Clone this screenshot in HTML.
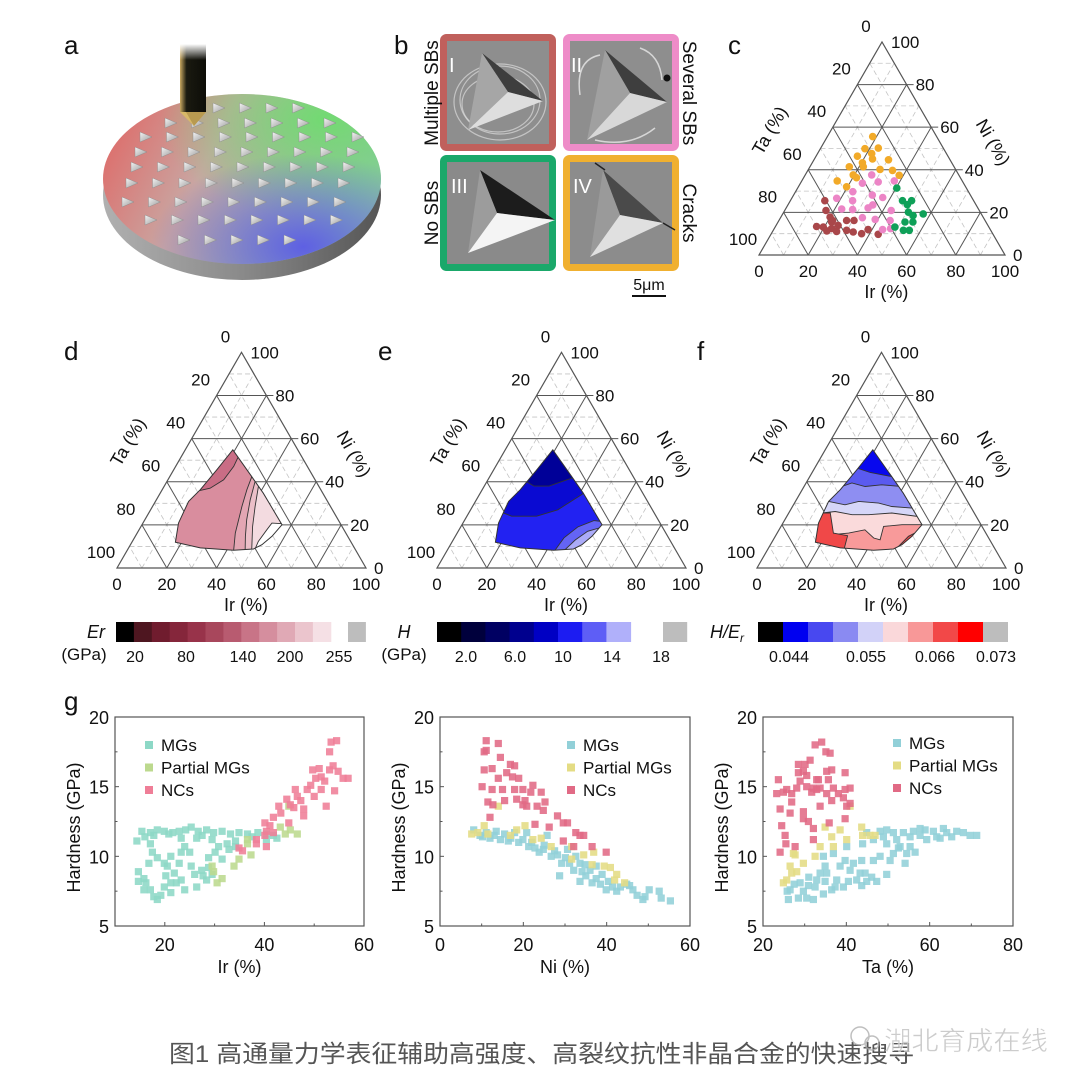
<!DOCTYPE html>
<html><head><meta charset="utf-8"><style>
html,body{margin:0;padding:0;background:#fff}
svg{display:block}
text{font-family:"Liberation Sans","Noto Sans CJK SC",sans-serif}
</style></head><body>
<svg id="fig" xmlns="http://www.w3.org/2000/svg" width="1080" height="1089" viewBox="0 0 1080 1089">
<defs>
 <linearGradient id="discBase" x1="0" y1="0" x2="1" y2="0.3">
  <stop offset="0" stop-color="#e2615f"/><stop offset="0.45" stop-color="#c9a6a2"/><stop offset="1" stop-color="#8fc4a8"/>
 </linearGradient>
 <radialGradient id="discGreen" cx="0.8" cy="0.15" r="0.6"><stop offset="0" stop-color="#6fdc6f" stop-opacity="0.95"/><stop offset="1" stop-color="#6fdc6f" stop-opacity="0"/></radialGradient>
 <radialGradient id="discBlue" cx="0.72" cy="0.9" r="0.55"><stop offset="0" stop-color="#5b5be6" stop-opacity="0.95"/><stop offset="1" stop-color="#5b5be6" stop-opacity="0"/></radialGradient>
 <linearGradient id="discSide" x1="0" y1="0" x2="1" y2="0"><stop offset="0" stop-color="#b0b0b0"/><stop offset="0.5" stop-color="#8a8a8a"/><stop offset="1" stop-color="#555"/></linearGradient>
 <linearGradient id="probe" x1="0" y1="0" x2="1" y2="0"><stop offset="0" stop-color="#c8a860"/><stop offset="0.25" stop-color="#1a1a10"/><stop offset="1" stop-color="#0d0d08"/></linearGradient>
 <linearGradient id="probeTop" x1="0" y1="0" x2="0" y2="1"><stop offset="0" stop-color="#fff"/><stop offset="1" stop-color="#fff" stop-opacity="0"/></linearGradient>
 <linearGradient id="indent" x1="0" y1="0" x2="1" y2="1"><stop offset="0" stop-color="#f4f4f4"/><stop offset="1" stop-color="#9a9a9a"/></linearGradient>
</defs>
<rect x="0" y="0" width="1080" height="1089" fill="#fff"/>

<g font-size="26" fill="#111">
 <text x="64" y="54">a</text>
 <text x="394" y="54">b</text>
 <text x="728" y="54">c</text>
 <text x="64" y="360">d</text>
 <text x="378" y="360">e</text>
 <text x="697" y="360">f</text>
 <text x="64" y="710">g</text>
</g>

<g id="panelA">
 <ellipse cx="242" cy="195" rx="139" ry="85" fill="url(#discSide)"/>
 <ellipse cx="242" cy="179" rx="139" ry="85" fill="url(#discBase)"/>
 <ellipse cx="242" cy="179" rx="139" ry="85" fill="url(#discGreen)"/>
 <ellipse cx="242" cy="179" rx="139" ry="85" fill="url(#discBlue)"/>
 <g id="indents"></g>
 <g>
  <rect x="180" y="44" width="26" height="68" fill="url(#probe)"/>
  <rect x="180" y="44" width="26" height="16" fill="url(#probeTop)"/>
  <polygon points="180,112 206,112 194,126" fill="#d8b868"/>
  <polygon points="186,112 206,112 194,126" fill="#b89a50"/>
 </g>
</g>

<g id="panelB">
 <g>
  <rect x="443.5" y="37.5" width="109" height="110" rx="3" fill="#8e8e8e" stroke="#c0605c" stroke-width="7"/>
  <g fill="none" stroke="#e8e8e8" stroke-opacity="0.6" stroke-width="1.2">
   <ellipse cx="500" cy="100" rx="40" ry="34"/><ellipse cx="500" cy="102" rx="46" ry="38"/><ellipse cx="498" cy="104" rx="36" ry="28"/>
  </g>
  <polygon points="482,53 508,92 543,101" fill="#3e3e3e"/>
  <polygon points="482,53 508,92 468,130" fill="#a6a6a6"/>
  <polygon points="508,92 543,101 468,130" fill="#dedede"/>
  <text x="449" y="72" font-size="20" fill="#fff">I</text>
 </g>
 <g>
  <rect x="566.5" y="37.5" width="109" height="110" rx="3" fill="#8e8e8e" stroke="#ee8cc8" stroke-width="7"/>
  <path d="M580,95 Q575,60 600,55 M640,48 Q660,55 662,80 M595,140 Q630,148 655,128" fill="none" stroke="#e8e8e8" stroke-width="1.5" stroke-opacity="0.8"/>
  <circle cx="667" cy="78" r="3.5" fill="#111"/>
  <polygon points="605,50 630,93 667,102" fill="#3e3e3e"/>
  <polygon points="605,50 630,93 587,140" fill="#a0a0a0"/>
  <polygon points="630,93 667,102 587,140" fill="#d8d8d8"/>
  <text x="571" y="72" font-size="20" fill="#fff">II</text>
 </g>
 <g>
  <rect x="443.5" y="158.5" width="109" height="109" rx="3" fill="#8a8a8a" stroke="#1aa86a" stroke-width="7"/>
  <polygon points="480,170 497,213 555,220" fill="#1c1c1c"/>
  <polygon points="480,170 497,213 468,253" fill="#9c9c9c"/>
  <polygon points="497,213 555,220 468,253" fill="#f4f4f4"/>
  <text x="451" y="193" font-size="20" fill="#fff">III</text>
 </g>
 <g>
  <rect x="566.5" y="158.5" width="109" height="109" rx="3" fill="#8c8c8c" stroke="#f0b030" stroke-width="7"/>
  <polygon points="603,170 620,215 663,223" fill="#4a4a4a"/>
  <polygon points="603,170 620,215 590,257" fill="#9a9a9a"/>
  <polygon points="620,215 663,223 590,257" fill="#e0e0e0"/>
  <path d="M595,163 L605,170 M663,223 L675,230" stroke="#222" stroke-width="1.5"/>
  <text x="573" y="193" font-size="20" fill="#fff">IV</text>
 </g>
 <text transform="translate(438,93) rotate(-90)" text-anchor="middle" font-size="19" fill="#111">Multiple SBs</text>
 <text transform="translate(438,213) rotate(-90)" text-anchor="middle" font-size="19" fill="#111">No SBs</text>
 <text transform="translate(683,93) rotate(90)" text-anchor="middle" font-size="19" fill="#111">Several SBs</text>
 <text transform="translate(683,213) rotate(90)" text-anchor="middle" font-size="19" fill="#111">Cracks</text>
 <text x="649" y="290" text-anchor="middle" font-size="16" fill="#111">5μm</text>
 <line x1="632" y1="296" x2="666" y2="296" stroke="#111" stroke-width="2"/>
</g>

<g id="ternC"></g>
<g id="ternD"></g>
<g id="ternE"></g>
<g id="ternF"></g>

<g>
 <text x="96" y="638" text-anchor="middle" font-size="18" font-style="italic" fill="#111">Er</text>
 <text x="84" y="660" text-anchor="middle" font-size="17" fill="#111">(GPa)</text>
 <g id="cbD"></g>
 <g font-size="16" fill="#111" text-anchor="middle">
  <text x="135" y="662">20</text><text x="186" y="662">80</text><text x="243" y="662">140</text><text x="290" y="662">200</text><text x="339" y="662">255</text>
 </g>
</g>
<g>
 <text x="404" y="638" text-anchor="middle" font-size="18" font-style="italic" fill="#111">H</text>
 <text x="404" y="660" text-anchor="middle" font-size="17" fill="#111">(GPa)</text>
 <g id="cbE"></g>
 <g font-size="16" fill="#111" text-anchor="middle">
  <text x="466" y="662">2.0</text><text x="515" y="662">6.0</text><text x="563" y="662">10</text><text x="612" y="662">14</text><text x="661" y="662">18</text>
 </g>
</g>
<g>
 <text x="727" y="638" text-anchor="middle" font-size="18" font-style="italic" fill="#111">H/E<tspan font-size="12" dy="4">r</tspan></text>
 <g id="cbF"></g>
 <g font-size="16" fill="#111" text-anchor="middle">
  <text x="789" y="662">0.044</text><text x="866" y="662">0.055</text><text x="935" y="662">0.066</text><text x="996" y="662">0.073</text>
 </g>
</g>

<g id="sc1"></g>
<g id="sc2"></g>
<g id="sc3"></g>

<text x="169" y="1062" font-size="24" fill="#555" textLength="745" lengthAdjust="spacingAndGlyphs">图1 高通量力学表征辅助高强度、高裂纹抗性非晶合金的快速搜寻</text>
<g opacity="0.75">
 <circle cx="860" cy="1036" r="9" fill="none" stroke="#aaa" stroke-width="1.5"/>
 <circle cx="872" cy="1043" r="7" fill="none" stroke="#aaa" stroke-width="1.5"/>
 <text x="884" y="1050" font-size="26" fill="#bbb" stroke="#fff" stroke-width="0.5" textLength="164" lengthAdjust="spacingAndGlyphs">湖北育成在线</text>
</g>
</svg>

<script>
const NS = "http://www.w3.org/2000/svg";
function mk(tag, attrs, parent){ const e=document.createElementNS(NS,tag); for(const k in attrs) e.setAttribute(k, attrs[k]); parent.appendChild(e); return e; }

/* ---------- panel a indents ---------- */
const indentRows = [[108,218,4],[123,170,7],[137,145,9],[152,140,9],[167,136,9],[183,131,9],[202,127,9],[220,150,8],[240,183,5]];
const ig = document.getElementById('indents');
indentRows.forEach(r=>{ for(let i=0;i<r[2];i++){ const x=r[1]+i*26.5, y=r[0];
  const t = mk('polygon',{points:`${x-5},${y-5} ${x+7},${y} ${x-5},${y+5}`,fill:'url(#indent)',stroke:'#888','stroke-width':0.4},ig);
  
  
}});

/* ---------- ternary data ---------- */
const multipleSBs = [[14.0,25.5],[16.8,20.9],[20.0,17.8],[21.8,16.2],[16.7,13.4],[19.6,13.1],[23.3,12.4],[25.2,13.9],[27.5,16.2],[30.5,16.2],[29.8,11.6],[32.9,10.8],[36.7,10.0],[38.4,11.9],[43.6,9.7],[26.0,11.1],[21.9,11.3],[21.8,15.5]];
const severalSBs = [[27.0,37.6],[25.2,33.7],[31.3,34.3],[37.6,34.8],[23.3,29.7],[32.0,28.1],[36.8,27.0],[18.3,26.6],[25.3,25.5],[34.5,23.5],[22.8,21.6],[27.4,21.3],[33.3,22.1],[43.3,20.9],[33.3,17.5],[38.9,16.7],[45.2,16.2],[44.3,11.9],[47.3,12.4]];
const noSBs = [[40.3,31.4],[45.6,25.5],[49.3,25.5],[50.7,20.1],[57.1,19.3],[53.4,18.5],[51.6,15.5],[54.8,15.5],[52.9,11.6],[55.3,11.6],[48.7,13.1],[48.5,23.6]];
const cracks = [[18.4,55.6],[18.1,49.9],[23.4,50.2],[22.0,47.6],[16.8,46.4],[23.6,45.1],[30.3,44.7],[16.0,41.4],[21.7,41.4],[29.1,40.2],[34.4,39.7],[38.3,37.4],[19.5,37.6],[21.5,36.3],[14.4,34.8],[19.6,32.0],[20.4,43.3]];

const regionOutline = [[19.1,54.8],[32.9,42.4],[41.4,34.7],[56.2,20.1],[54.9,14.7],[52.8,10.8],[50.4,8.8],[42.7,8.2],[28.8,9.3],[17.5,11.9],[14.3,20.8],[13.3,30.9],[15.3,36.3],[17.3,45.5]];
const erLevels = [
 {c:'#d98d9e', p:[[0,0],[100,0],[0,100]]},
 {c:'#c96d85', p:[[15.4,36.0],[18.9,37.0],[22.4,40.9],[23.3,47.1],[22.9,51.7],[30,70],[0,80],[0,36]]},
 {c:'#e3a6b3', p:[[33.0,42.1],[34.0,36.3],[35.9,28.5],[37.7,22.3],[39.4,16.2],[43.3,6.9],[43.3,0],[100,0],[60,45]]},
 {c:'#ebbfc8', p:[[35.4,40.1],[37.7,31.6],[40.9,22.4],[44.2,14.7],[48.0,6.9],[48,0],[100,0],[60,45]]},
 {c:'#f3dbe0', p:[[37.9,37.8],[41.2,28.5],[44.8,19.3],[50.6,6.9],[50.6,0],[100,0],[60,45]]},
 {c:'#ffffff', p:[[56.5,20.5],[51.8,20.8],[51.3,17.7],[50.6,12.3],[51.3,6.9],[51.3,0],[100,0],[70,25]]}
];
const hLevels = [
 {c:'#2222f2', p:[[0,0],[100,0],[0,100]]},
 {c:'#0a0ad2', p:[[10,27],[18,24],[28,24],[35,27],[41,34],[60,60],[0,80]]},
 {c:'#000098', p:[[14,41],[20,38],[26,38],[30,40],[34,42],[50,60],[0,80]]},
 {c:'#6464f5', p:[[43,0],[43,6],[44,14],[47,19],[52,22],[60,21],[90,0]]},
 {c:'#ababf8', p:[[47,0],[47,8],[49,13],[52,17],[57,19],[90,0]]},
 {c:'#ffffff', p:[[52,0],[52,8],[55,12],[59,16],[90,0]]}
];
const heLevels = [
 {c:'#f89a9a', p:[[0,0],[100,0],[0,100]]},
 {c:'#fadadb', p:[[10,14],[28.7,16.2],[34.5,17.7],[39.9,13.9],[42.9,13.1],[41.2,19.3],[48.2,20.1],[70,20.1],[70,100],[0,100]]},
 {c:'#d6d6f8', p:[[0,25.5],[13.4,25.5],[18.3,26.2],[25.8,24.7],[32.5,24.7],[41.4,25.5],[52.8,23.9],[80,23.9],[80,100],[0,100]]},
 {c:'#8e8ef2', p:[[0,30.9],[13.3,30.9],[20.7,29.3],[25.4,30.9],[33.8,30.1],[39.8,28.5],[48.3,27.8],[80,27.8],[80,100],[0,100]]},
 {c:'#5a5af0', p:[[0,37.0],[13.6,37.0],[18.4,39.4],[24.5,37.8],[30.8,38.6],[39.3,37.8],[80,37.8],[80,100],[0,100]]},
 {c:'#0808ee', p:[[0,47.1],[14.6,47.1],[23.3,44.3],[32.9,42.4],[80,42.4],[80,100],[0,100]]},
 {c:'#f04848', p:[[16.7,25.5],[22.6,16.2],[28.9,15.0],[30.9,7.7],[30.9,0],[0,0],[0,25.5]]},
 {c:'#f04848', p:[[51.3,8.5],[53.5,14.7],[56.3,17.0],[70,10],[60,0]]}
];
const ternTicks = ['0','20','40','60','80','100'];

function drawTernary(root, BLx, BLy, W){
  const H = W*0.866;
  const P = (ir,ni)=>[BLx + W*(ir+ni/2)/100, BLy - H*ni/100];
  const pts = arr=>arr.map(a=>P(a[0],a[1]).map(v=>v.toFixed(1)).join(',')).join(' ');
  const gridG = mk('g',{},root);
  
  
  for(let v=10; v<100; v+=20){
    [[[0,v],[100-v,v]],[[v,0],[v,100-v]],[[100-v,0],[0,100-v]]].forEach(s=>{
      const a=P(...s[0]), b=P(...s[1]);
      mk('line',{x1:a[0],y1:a[1],x2:b[0],y2:b[1],stroke:'#c4c4c4','stroke-width':0.8,'stroke-dasharray':'5,3'},gridG);
    });
  }
  for(let v=20; v<100; v+=20){
    [[[0,v],[100-v,v]],[[v,0],[v,100-v]],[[100-v,0],[0,100-v]]].forEach((s,i)=>{
      const a=P(...s[0]), b=P(...s[1]);
      mk('line',{x1:a[0],y1:a[1],x2:b[0]+(i===0?7:0),y2:b[1],stroke:'#555','stroke-width':1},gridG);
    });
  }
  return {P,pts,H,gridG};
}
function ternFrame(root, T, BLx, BLy, W){
  const {P,H} = T;
  const e = mk('polygon',{points:`${BLx},${BLy} ${BLx+W},${BLy} ${BLx+W/2},${BLy-H}`,fill:'none',stroke:'#555','stroke-width':1.2},root);
  
  
  const tg = mk('g',{'font-size':17,fill:'#111'},root);
  
  
  ternTicks.forEach((lab,i)=>{
    const v=i*20;
    const b=P(v,0);
    mk('text',{x:b[0],y:BLy+22,'text-anchor':'middle'},tg).textContent=lab;
    const r=P(100-v,v);
    mk('text',{x:r[0]+(v===0?8:9),y:r[1]+6},tg).textContent=lab;
    const l=P(0,100-v);
    mk('text',{x:l[0]-16,y:l[1]-10,'text-anchor':'middle'},tg).textContent=lab;
  });
  const t1 = mk('text',{x:BLx+W*0.518,y:BLy+43,'text-anchor':'middle','font-size':18,fill:'#111'},root);
  t1.textContent='Ir (%)';
  
  
  const t2 = mk('text',{transform:`translate(${BLx+W*0.065},${BLy-W*0.494}) rotate(-60)`,'text-anchor':'middle','font-size':18,fill:'#111'},root);
  t2.textContent='Ta (%)';
  
  
  const t3 = mk('text',{transform:`translate(${BLx+W*0.93},${BLy-W*0.446}) rotate(60)`,'text-anchor':'middle','font-size':18,fill:'#111'},root);
  t3.textContent='Ni (%)';
  
  
}

(function(){
  const root=document.getElementById('ternC');
  const BLx=759, BLy=255, W=246;
  const T=drawTernary(root,BLx,BLy,W);
  ternFrame(root,T,BLx,BLy,W);
  [[multipleSBs,'#a9474a','point-multiple-sbs'],[severalSBs,'#ec85c6','point-several-sbs'],[noSBs,'#0fa058','point-no-sbs'],[cracks,'#f2aa28','point-cracks']].forEach(s=>{
    s[0].forEach(d=>{
      const p=T.P(d[0],d[1]);
      const c=mk('circle',{cx:p[0].toFixed(1),cy:p[1].toFixed(1),r:3.8,fill:s[1]},root);
      
      
    });
  });
})();

function drawMap(id, BLx, levels, nm){
  const root=document.getElementById(id);
  const BLy=568, W=249;
  const T=drawTernary(root,BLx,BLy,W);
  const cp = mk('clipPath',{id:'clip'+id},root);
  mk('polygon',{points:T.pts(regionOutline)},cp);
  const mg = mk('g',{'clip-path':`url(#clip${id})`},root);
  
  
  levels.forEach(l=>{
    const e=mk('polygon',{points:T.pts(l.p),fill:l.c,stroke:'#333','stroke-width':0.9},mg);
    
    
  });
  const ol = mk('polygon',{points:T.pts(regionOutline),fill:'none',stroke:'#333','stroke-width':1},root);
  
  
  ternFrame(root,T,BLx,BLy,W);
}
drawMap('ternD',117,erLevels,'er-contours');
drawMap('ternE',437,hLevels,'h-contours');
drawMap('ternF',757,heLevels,'h-er-contours');

const erColors=['#000000','#4e1620','#701c2e','#85263b','#98334a','#a8475c','#b85b70','#c87487','#d58e9e','#e0a9b5','#ebc5cd','#f5e0e5'];
const hColors=['#000000','#00003c','#000062','#00008e','#0000c4','#1c1cf2','#5e5ef6','#b0b0fa'];
const heColors=['#000000','#0000f0','#4848f0','#8a8af2','#d2d2f8','#fad8da','#f89898','#f24848','#ff0000'];
function colorbar(id,x0,w,cols,grayX){
  const g=document.getElementById(id);
  cols.forEach((c,i)=>{ const r=mk('rect',{x:x0+i*w,y:622,width:w+0.5,height:20,fill:c},g);
    
     });
  const gr=mk('rect',{x:grayX,y:622,width:w,height:20,fill:'#bdbdbd'},g);
  
  
}
colorbar('cbD',116,17.9,erColors,348);
colorbar('cbE',437,24.2,hColors,663);
colorbar('cbF',758,25,heColors,983);

const irMGs=[[15.4,11.8],[17.1,11.7],[18.5,11.9],[19.9,11.8],[21.6,11.7],[22.9,11.8],[25.3,12.1],[26.7,11.8],[28.4,11.9],[29.8,11.7],[31.5,11.8],[33.2,11.6],[34.9,11.7],[36.6,11.6],[38.7,11.7],[40.4,11.6],[41.8,11.5],[14.4,11.1],[17.8,11.5],[23.3,11.3],[26.4,11.3],[29.5,11.2],[32.5,10.9],[34.2,10.7],[40.4,11.2],[14.7,8.9],[15.8,8.4],[16.2,8.1],[15.8,7.6],[17.1,7.6],[17.8,7.1],[18.5,6.9],[19.2,7.2],[19.9,7.8],[20.2,8.6],[20.5,9.3],[21.2,10.0],[21.9,8.8],[22.3,8.1],[22.9,9.5],[23.3,10.3],[23.3,8.3],[24.0,10.7],[25.0,10.3],[25.3,9.3],[26.0,8.7],[26.4,7.8],[27.4,9.0],[27.7,8.6],[28.4,8.3],[28.8,9.2],[28.8,9.9],[29.5,8.7],[30.1,10.3],[17.1,10.9],[17.5,10.3],[18.5,9.9],[16.8,9.5],[19.9,9.5],[14.7,8.2],[21.2,7.4],[24.0,7.6],[21.2,8.1],[30.8,10.7],[31.5,9.8],[32.9,10.5],[34.2,11.1],[16.0,11.4],[20.8,11.6],[24.2,11.9],[27.5,11.5],[37.5,11.4],[42.5,11.3]];
const irPartial=[[29.8,8.9],[30.5,8.1],[31.5,8.4],[33.9,9.3],[34.9,9.8],[36.6,11.2],[37.3,10.1],[36.6,10.9],[43.2,12.1],[44.2,11.6],[45.2,11.9],[46.6,11.6],[44.9,13.6],[29.5,9.3]];
const irNCs=[[40.1,12.4],[41.8,12.8],[42.9,13.6],[43.3,13.1],[40.4,11.8],[41.8,11.7],[38.4,11.2],[40.4,10.7],[38.4,10.9],[34.9,10.6],[35.6,10.4],[44.5,14.1],[45.2,13.7],[44.9,12.4],[46.2,14.8],[46.6,14.3],[47.3,14.0],[47.9,13.4],[47.9,12.9],[48.6,14.8],[49.3,15.1],[49.7,16.2],[50.0,14.3],[50.3,15.6],[51.0,16.3],[51.4,15.7],[52.1,15.4],[52.4,13.6],[53.1,16.2],[53.1,17.5],[53.4,18.2],[53.8,16.5],[54.1,14.7],[54.5,18.3],[54.8,16.1],[55.8,15.6],[56.8,15.6],[51.4,14.8],[45.9,13.5],[40.1,11.5],[41.1,12.2]];
const niMGs=[[8.1,11.9],[9.6,11.5],[11.1,11.7],[12.0,11.3],[13.5,11.8],[14.5,11.2],[15.5,11.6],[16.4,11.1],[17.9,11.7],[18.9,11.0],[19.9,11.2],[20.8,11.7],[21.3,10.7],[22.8,10.6],[23.8,10.3],[24.8,10.5],[25.7,11.5],[26.7,10.0],[28.2,10.1],[28.7,8.6],[29.2,9.5],[30.1,9.9],[31.1,9.5],[32.1,9.0],[32.6,10.0],[33.6,8.2],[34.1,8.9],[35.0,8.6],[36.0,9.0],[36.5,8.1],[37.5,8.4],[38.5,8.0],[38.9,8.7],[39.9,7.6],[40.4,8.2],[41.4,7.8],[42.4,7.5],[43.3,7.8],[44.8,8.0],[46.3,7.6],[47.3,7.2],[48.7,6.9],[49.2,7.1],[50.2,7.6],[52.6,7.5],[53.1,7.0],[55.3,6.8],[33.6,9.5],[37.5,9.3],[30.6,10.5],[10.2,11.4],[13.0,11.5],[17.0,11.3],[22.0,11.0],[25.0,10.8],[27.5,10.4],[34.8,9.4],[45.5,7.9]];
const niPartial=[[7.6,11.6],[9.1,11.7],[10.6,12.2],[11.5,11.6],[14.0,13.6],[16.9,11.5],[18.4,11.9],[20.4,12.2],[22.3,11.2],[24.3,11.3],[26.7,10.7],[31.6,9.8],[34.5,10.1],[36.5,9.4],[36.9,10.3],[39.4,9.3],[40.9,9.2],[42.4,8.7],[41.9,8.3],[44.3,8.1],[31.6,10.7]];
const niNCs=[[11.1,18.3],[10.6,17.5],[11.1,17.6],[10.6,16.2],[12.5,16.3],[10.1,15.0],[12.5,14.8],[11.5,13.9],[12.7,13.7],[12.0,12.8],[14.0,18.1],[14.5,17.1],[14.0,15.6],[15.0,14.8],[15.5,14.0],[16.0,16.0],[16.9,16.6],[17.4,15.7],[17.9,14.8],[18.4,14.1],[18.9,15.6],[17.9,16.5],[19.9,14.8],[20.4,14.0],[20.8,13.6],[21.8,14.6],[22.8,12.3],[23.3,13.6],[24.3,14.6],[24.8,13.3],[25.2,13.9],[26.2,12.1],[28.2,12.9],[29.6,12.4],[30.6,12.4],[32.6,11.7],[33.6,11.5],[34.5,11.5],[32.1,10.7],[36.5,10.7],[39.9,10.3],[29.6,11.1],[19.9,13.7],[22.3,15.1]];
const taMGs=[[26.1,6.9],[25.8,7.5],[26.5,7.6],[28.5,7.0],[28.9,8.1],[29.7,7.5],[30.5,7.0],[30.9,7.9],[32.1,6.9],[32.5,7.8],[32.9,8.3],[33.7,8.8],[34.5,7.3],[34.5,10.0],[34.9,9.3],[34.9,8.2],[35.3,8.8],[36.5,7.6],[36.9,10.2],[37.3,7.8],[37.7,8.3],[38.5,9.3],[39.3,7.8],[39.7,9.7],[40.1,10.7],[40.5,8.2],[40.9,9.0],[41.7,9.5],[42.5,8.3],[43.3,8.8],[43.7,7.9],[43.7,9.7],[44.5,8.8],[44.9,8.2],[46.1,8.5],[47.3,8.2],[46.5,9.7],[48.1,10.0],[49.7,8.7],[50.5,9.7],[51.3,10.2],[52.5,10.6],[54.1,9.5],[54.5,10.2],[56.5,10.3],[43.9,10.9],[44.9,11.7],[46.5,11.2],[48.1,11.8],[48.9,11.4],[49.7,10.9],[51.3,11.7],[52.1,11.2],[53.7,11.7],[55.3,11.4],[56.1,11.8],[57.7,11.5],[58.9,11.9],[59.3,11.2],[60.9,11.8],[61.7,11.4],[63.3,12.0],[64.1,11.7],[65.3,11.4],[66.5,11.8],[68.1,11.7],[69.7,11.5],[71.3,11.5],[57.7,12.0],[62.5,11.3],[49.7,11.9],[55.3,10.7],[52.9,10.7],[31.0,8.5],[27.5,8.0]];
const taPartial=[[24.9,8.1],[25.7,8.3],[26.5,9.3],[26.9,8.8],[27.3,10.2],[27.7,10.1],[28.1,8.9],[29.7,9.5],[32.5,10.0],[33.7,10.7],[34.9,12.1],[36.5,11.4],[36.9,10.7],[38.5,11.9],[40.1,11.2],[43.7,12.1],[43.9,11.5],[45.7,11.5],[46.9,11.5],[40.9,13.6]];
const taNCs=[[23.7,15.5],[24.1,13.4],[24.5,12.2],[24.1,10.3],[25.3,11.5],[25.5,10.9],[23.3,14.5],[24.9,14.6],[25.7,14.8],[26.9,14.5],[26.9,13.9],[26.5,13.1],[28.1,14.9],[28.5,16.6],[28.5,16.0],[28.9,15.4],[30.1,16.6],[29.7,16.1],[30.5,15.8],[30.5,15.0],[29.7,13.2],[29.7,12.7],[30.9,12.5],[31.7,14.6],[32.1,14.9],[32.9,14.8],[33.3,15.5],[33.7,14.9],[32.5,18.0],[34.1,18.2],[35.1,17.5],[36.1,17.4],[35.3,16.1],[36.5,16.2],[35.7,15.5],[35.3,14.5],[36.5,14.0],[36.9,14.9],[38.1,14.5],[39.3,14.2],[39.7,14.8],[40.9,14.9],[39.7,16.0],[40.1,13.6],[40.9,13.8],[39.7,12.7],[32.1,12.0],[32.1,11.2],[27.7,10.7],[31.3,16.9],[32.9,15.5],[33.7,13.6],[35.9,12.4]];
const hTicks=[5,10,15,20];
const irTicks=[20,40,60];
const niTicks=[0,20,40,60];
const taTicks=[20,40,60,80];
const legendLabels=['MGs','Partial MGs','NCs'];

function scatter(id, x0, x1, dmin, dmax, ticks, xTitle, series, legend){
  const root=document.getElementById(id);
  const y0=926, y1=717;
  const X=v=>x0+(v-dmin)/(dmax-dmin)*(x1-x0);
  const Y=v=>y0-(v-5)/15*(y0-y1);
  const ax=mk('g',{},root);
  
  
  mk('rect',{x:x0,y:y1,width:x1-x0,height:y0-y1,fill:'none',stroke:'#555','stroke-width':1.2},ax);
  hTicks.forEach(t=>{ const y=Y(t);
    mk('line',{x1:x0,y1:y,x2:x0+4,y2:y,stroke:'#555'},ax);
    if(t<20){ mk('line',{x1:x0,y1:Y(t+2.5),x2:x0+2.5,y2:Y(t+2.5),stroke:'#555'},ax); }
    const tx=mk('text',{x:x0-6,y:y+7,'text-anchor':'end','font-size':18,fill:'#111'},ax);
    tx.textContent=t;
  });
  ticks.forEach((t,i)=>{ const x=X(t);
    mk('line',{x1:x,y1:y0,x2:x,y2:y0-4,stroke:'#555'},ax);
    if(i<ticks.length-1){ const m=X(t+(ticks[1]-ticks[0])/2); mk('line',{x1:m,y1:y0,x2:m,y2:y0-2.5,stroke:'#555'},ax); }
    const tx=mk('text',{x:x,y:y0+25,'text-anchor':'middle','font-size':18,fill:'#111'},ax);
    tx.textContent=t;
  });
  if(dmin<ticks[0]){ const m=X(ticks[0]-(ticks[1]-ticks[0])/2); mk('line',{x1:m,y1:y0,x2:m,y2:y0-2.5,stroke:'#555'},ax); }
  const xt=mk('text',{x:(x0+x1)/2,y:y0+47,'text-anchor':'middle','font-size':18,fill:'#111'},root);
  xt.textContent=xTitle;
  
  
  const yt=mk('text',{transform:`translate(${x0-35},${(y0+y1)/2+6}) rotate(-90)`,'text-anchor':'middle','font-size':18,fill:'#111'},root);
  yt.textContent='Hardness (GPa)';
  
  
  series.forEach(s=>{
    s.data.forEach(d=>{
      const r=mk('rect',{x:(X(d[0])-3.6).toFixed(1),y:(Y(d[1])-3.6).toFixed(1),width:7.2,height:7.2,fill:s.color,'fill-opacity':0.88},root);
      
      
    });
  });
  series.forEach((s,i)=>{
    const ly=legend[1]+i*22.5;
    const lg=mk('g',{},root);
    
    
    mk('rect',{x:legend[0]-4,y:ly-4,width:8,height:8,fill:s.color},lg);
    const t=mk('text',{x:legend[0]+12,y:ly+6,'font-size':17,fill:'#111'},lg);
    t.textContent=legendLabels[i];
  });
}
scatter('sc1',115,364,10,60,irTicks,'Ir (%)',[
 {data:irMGs,color:'#8dd8c6',name:'point-mgs'},{data:irPartial,color:'#bcd98e',name:'point-partial-mgs'},{data:irNCs,color:'#ef7e97',name:'point-ncs'}],[149,745]);
scatter('sc2',440,690,0,60,niTicks,'Ni (%)',[
 {data:niMGs,color:'#92d0d8',name:'point-mgs'},{data:niPartial,color:'#e4dc84',name:'point-partial-mgs'},{data:niNCs,color:'#e16a85',name:'point-ncs'}],[571,745]);
scatter('sc3',763,1013,20,80,taTicks,'Ta (%)',[
 {data:taMGs,color:'#92d0d8',name:'point-mgs'},{data:taPartial,color:'#e4dc84',name:'point-partial-mgs'},{data:taNCs,color:'#e16a85',name:'point-ncs'}],[897,743]);
</script>
</body></html>
